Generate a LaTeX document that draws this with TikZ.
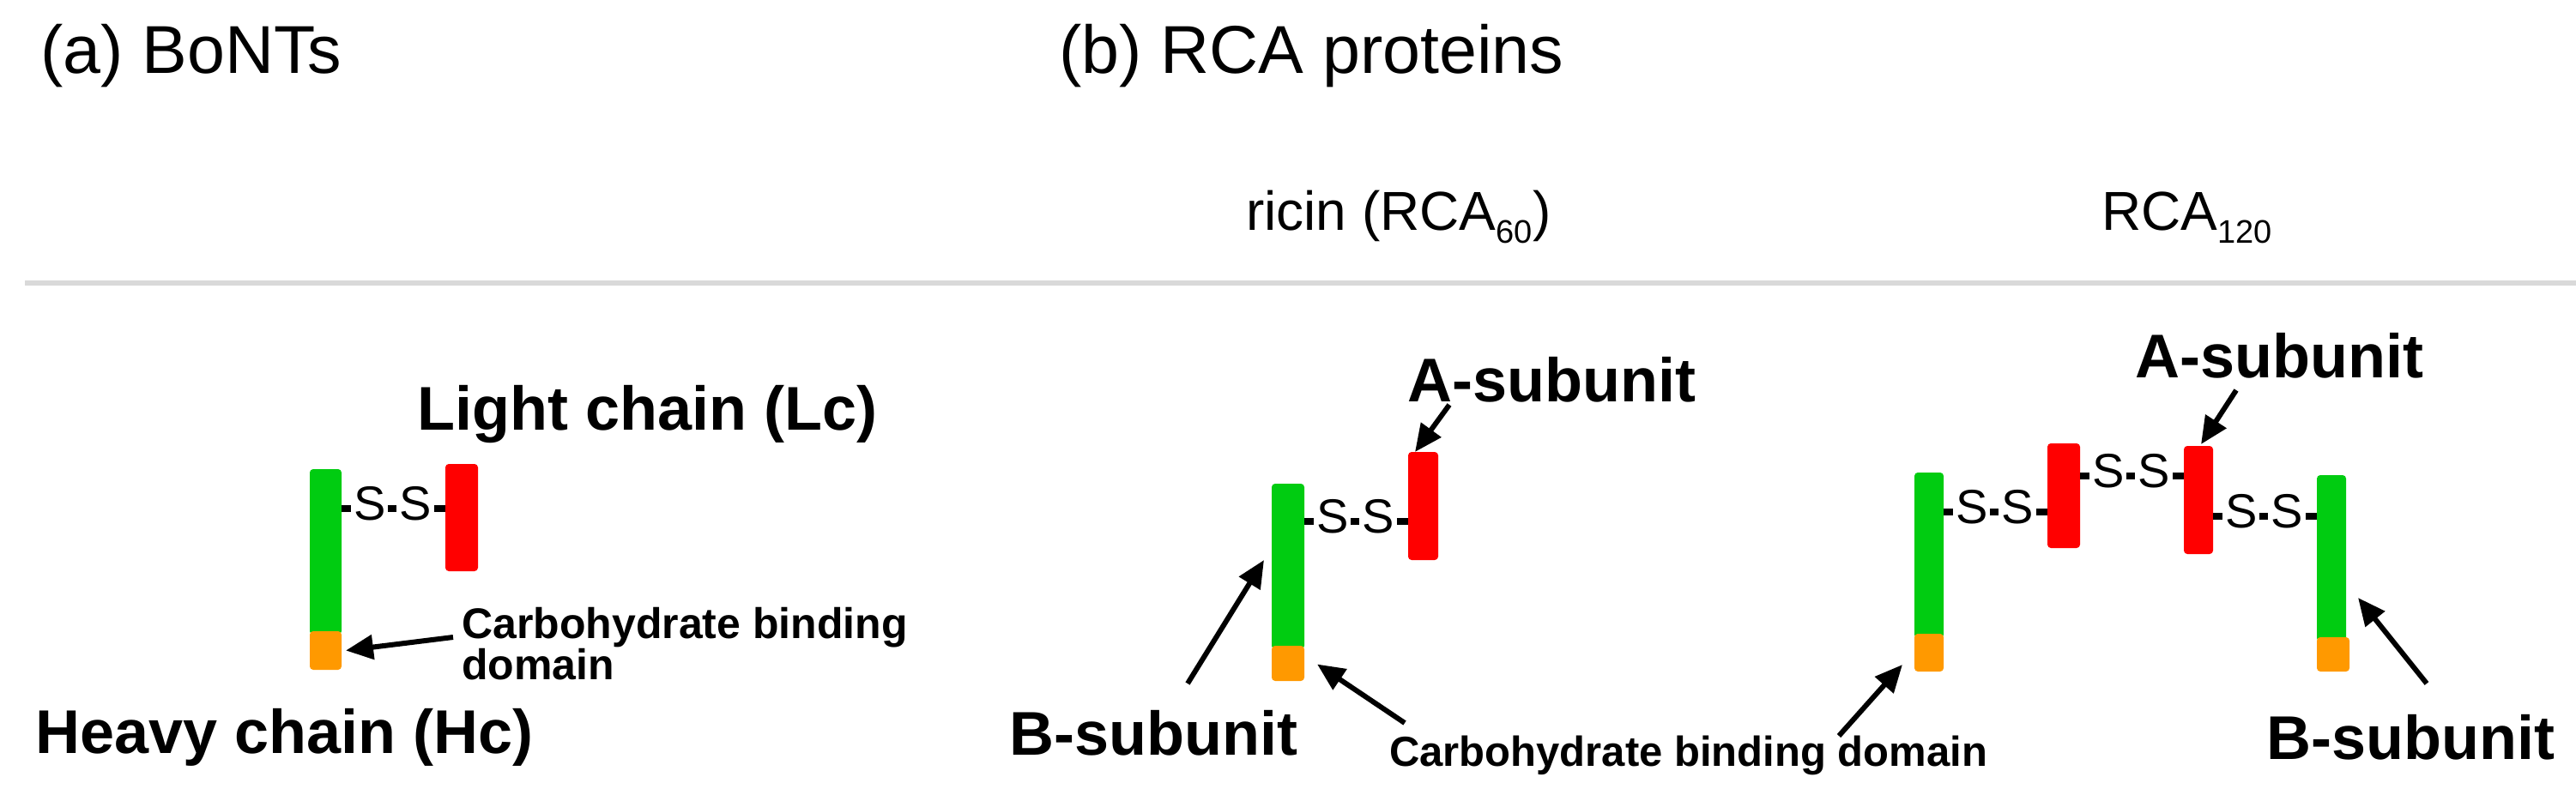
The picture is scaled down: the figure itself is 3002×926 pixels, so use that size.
\documentclass[tikz,border=0pt]{standalone}
\usepackage{fontspec}
\setmainfont{Liberation Sans}
\usetikzlibrary{arrows.meta,calc}
\definecolor{pgreen}{RGB}{0,204,17}
\definecolor{pred}{RGB}{255,0,0}
\definecolor{porange}{RGB}{255,153,0}
\definecolor{lgray}{RGB}{217,217,217}
\newcommand\setfs[1]{\fontsize{#1}{#1}\selectfont}
\begin{document}
\begin{tikzpicture}[x=1pt,y=-1pt,
  barbox/.style={rectangle, rounded corners=4pt, inner sep=0pt, outer sep=0pt, anchor=north west, draw=none},
  gbar/.style={barbox, fill=pgreen},
  rbar/.style={barbox, fill=pred},
  obar/.style={barbox, fill=porange},
  title/.style={inner sep=0pt, anchor=base west, font=\setfs{79}},
  sub/.style={inner sep=0pt, anchor=base west, font=\setfs{64}},
  biglab/.style={inner sep=0pt, anchor=base west, font=\bfseries\setfs{72}},
  carblab/.style={inner sep=0pt, font=\bfseries\setfs{50}},
  sslink/.style={line width=8pt, black},
  snode/.style={fill=white, inner xsep=3pt, inner ysep=0pt, yshift=6pt, font=\setfs{56}},
  arr/.style={line width=6pt, -{Triangle[length=32pt,width=28pt]}},
]
\useasboundingbox (0,0) rectangle (3002,926);

% titles
\node[title] (ta) at (47,85) {(a) BoNTs};
\node[title] (tb) at (1234,85) {(b) RCA proteins};
\node[sub] (tricin) at (1452,268) {ricin (RCA\raisebox{-15pt}{\setfs{38}60})};
\node[sub] (trca) at (2449,268) {RCA\raisebox{-15pt}{\setfs{38}120}};
\coordinate (hl1) at (29,330);
\coordinate (hl2) at (3002,330);
\draw[lgray, line width=6pt] (hl1) -- (hl2);

% ---------- (a) BoNTs ----------
\node[gbar, minimum width=37pt, minimum height=193pt] (g1) at (361,547) {};
\node[obar, minimum width=37pt, minimum height=45pt] (o1) at (361,736) {};
\node[rbar, minimum width=38pt, minimum height=125pt] (r1) at (519,541) {};
\draw[sslink] (g1.east |- 0,593) -- node[snode,pos=0.27]{S} node[snode,pos=0.71]{S} (r1.west |- 0,593);

\node[biglab] (lc) at (486,501) {Light chain (Lc)};
\node[biglab] (hc) at (41,878) {Heavy chain (Hc)};
\node[carblab, anchor=north west, align=left, font=\bfseries\fontsize{50}{43}\selectfont] (cb1) at (538,708) {Carbohydrate binding\\domain};
\coordinate (cb1t) at (528,743);
\draw[arr] (cb1t) -- ($(o1.east)+(5,0)$);

% ---------- ricin ----------
\node[gbar, minimum width=38pt, minimum height=193pt] (g2) at (1482,564) {};
\node[obar, minimum width=38pt, minimum height=41pt] (o2) at (1482,753) {};
\node[rbar, minimum width=35pt, minimum height=126pt] (r2) at (1641,527) {};
\draw[sslink] (g2.east |- 0,608) -- node[snode,pos=0.27]{S} node[snode,pos=0.71]{S} (r2.west |- 0,608);

\node[biglab] (ra) at (1640,468) {A-subunit};
\node[biglab] (rb) at (1176,880) {B-subunit};
\node[carblab, anchor=base west, font=\bfseries\setfs{49}] (cb2) at (1619,893) {Carbohydrate binding domain};
\coordinate (rat) at (1689,472);
\coordinate (rbt) at (1384,797);
\coordinate (cb2t) at (1637,843);
\coordinate (cb3t) at (2143,858);
\draw[arr] (rat) -- ($(r2.north west)+(8,0)$);
\draw[arr] (rbt) -- ($(g2.north west)+(-9,89)$);
\draw[arr] (cb2t) -- ($(o2.east)+(15,1)$);

% ---------- RCA120 ----------
\node[gbar, minimum width=34pt, minimum height=193pt] (g3) at (2231,551) {};
\node[obar, minimum width=34pt, minimum height=44pt] (o3) at (2231,739) {};
\node[rbar, minimum width=38pt, minimum height=122pt] (r3) at (2386,517) {};
\node[rbar, minimum width=34pt, minimum height=126pt] (r4) at (2545,520) {};
\node[gbar, minimum width=34pt, minimum height=194pt] (g4) at (2700,554) {};
\node[obar, minimum width=38pt, minimum height=40pt] (o4) at (2700,743) {};
\draw[sslink] (g3.east |- 0,597) -- node[snode,pos=0.27]{S} node[snode,pos=0.71]{S} (r3.west |- 0,597);
\draw[sslink] (r3.east |- 0,555) -- node[snode,pos=0.27]{S} node[snode,pos=0.71]{S} (r4.west |- 0,555);
\draw[sslink] (r4.east |- 0,602) -- node[snode,pos=0.27]{S} node[snode,pos=0.71]{S} (g4.west |- 0,602);

\node[biglab] (qa) at (2488,440) {A-subunit};
\node[biglab] (qb) at (2641,885) {B-subunit};
\coordinate (qat) at (2606,455);
\coordinate (qbt) at (2828,797);
\draw[arr] (qat) -- ($(r4.north west)+(20,-2)$);
\draw[arr] (qbt) -- ($(g4.north east)+(14,143)$);
\draw[arr] (cb3t) -- ($(o3.west)+(-14,14)$);
\end{tikzpicture}
\end{document}
